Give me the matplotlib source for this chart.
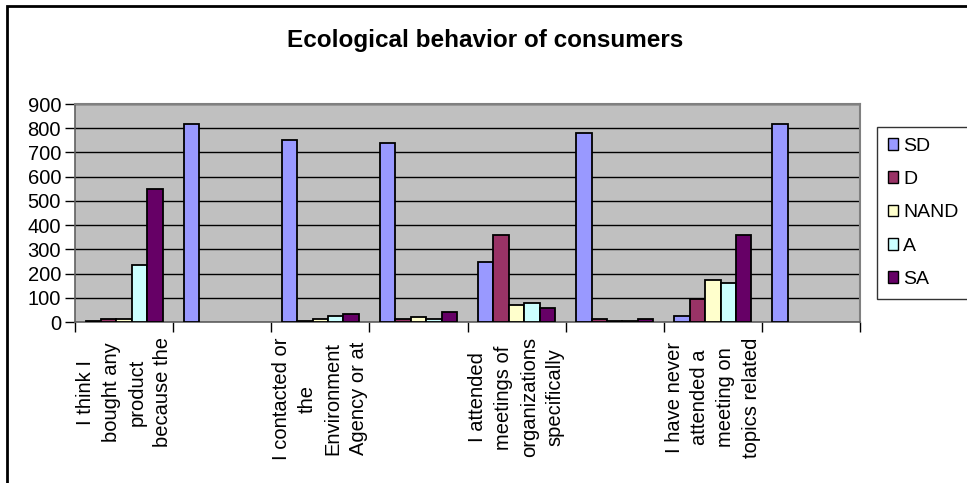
import numpy as np
import matplotlib
matplotlib.use("Agg")
import matplotlib.pyplot as plt
from matplotlib.patches import Patch, Rectangle

plt.rcParams['font.family'] = ['Liberation Sans', 'DejaVu Sans']

title = "Ecological behavior of consumers"
categories = [
    "I think I\nbought any\nproduct\nbecause the",
    "",
    "I contacted or\nthe\nEnvironment\nAgency or at",
    "",
    "I attended\nmeetings of\norganizations\nspecifically",
    "",
    "I have never\nattended a\nmeeting on\ntopics related",
    "",
]
series_names = ["SD", "D", "NAND", "A", "SA"]
nan = np.nan
SD = [4, 817, 751, 737, 248, 779, 25, 817]
D = [12, nan, 4, 12, 358, 12, 96, nan]
NAND = [12, nan, 12, 19, 70, 4, 175, nan]
A = [236, nan, 25, 12, 79, 4, 163, nan]
SA = [549, nan, 32, 40, 58, 12, 358, nan]
series_values = [SD, D, NAND, A, SA]
colors = ["#9999FF", "#993366", "#FFFFCC", "#CCFFFF", "#660066"]
yticks = list(range(0, 901, 100))

W, H = 967, 483
fig = plt.figure(figsize=(W / 100, H / 100), dpi=100)
ax = fig.add_axes([75 / W, 1 - 322 / H, (860 - 75) / W, (322 - 104) / H])
ax.set_facecolor("#C0C0C0")

n = len(categories)
x = np.arange(n) + 0.5
bw = 0.157
for j, (name, vals, c) in enumerate(zip(series_names, series_values, colors)):
    ax.bar(x + (j - 2) * bw, np.array(vals, dtype=float), width=bw, color=c,
           edgecolor="black", linewidth=1.3, label=name, zorder=3)

ax.set_xlim(0, n)
ax.set_ylim(0, 900)
ax.set_yticks(yticks)
ax.set_yticklabels([str(v) for v in yticks], fontsize=14.5)
ax.yaxis.grid(True, color="black", linewidth=1, zorder=1)
ax.set_axisbelow(True)

ax.set_xticks(x)
ax.set_xticklabels(categories, rotation=90, fontsize=14.5, linespacing=1.45,
                   ha="center", va="top", multialignment="center")
ax.set_xticks(np.arange(n + 1), minor=True)
ax.tick_params(axis="x", which="major", length=0, pad=11)
ax.tick_params(axis="x", which="minor", length=7, width=1, color="black", direction="out")
ax.tick_params(axis="y", length=7, width=1, pad=3, color="black")

for s in ["top", "right"]:
    ax.spines[s].set_color("#808080")
    ax.spines[s].set_linewidth(1.5)
for s in ["left", "bottom"]:
    ax.spines[s].set_color("#606060")
    ax.spines[s].set_linewidth(1.2)

fig.text(485 / W, 1 - 40 / H, title, ha="center", va="center",
         fontsize=17.5, fontweight="bold")

handles = [Patch(facecolor=c, edgecolor="black", linewidth=1, label=nm)
           for nm, c in zip(series_names, colors)]
leg = fig.legend(handles=handles, loc="upper left",
                 bbox_to_anchor=(877 / W, 1 - 127 / H), bbox_transform=fig.transFigure,
                 fontsize=14, frameon=True, fancybox=False, borderaxespad=0,
                 handlelength=0.55, handleheight=0.55, handletextpad=0.25,
                 labelspacing=0.84, borderpad=0.55)
leg.get_frame().set_edgecolor("black")
leg.get_frame().set_linewidth(1)

fig.patches.append(Rectangle((7 / W, -0.1), 1.2, 1 - 6 / H + 0.1, transform=fig.transFigure,
                             fill=False, edgecolor="black", linewidth=2))

fig.savefig("out.png", dpi=100)
